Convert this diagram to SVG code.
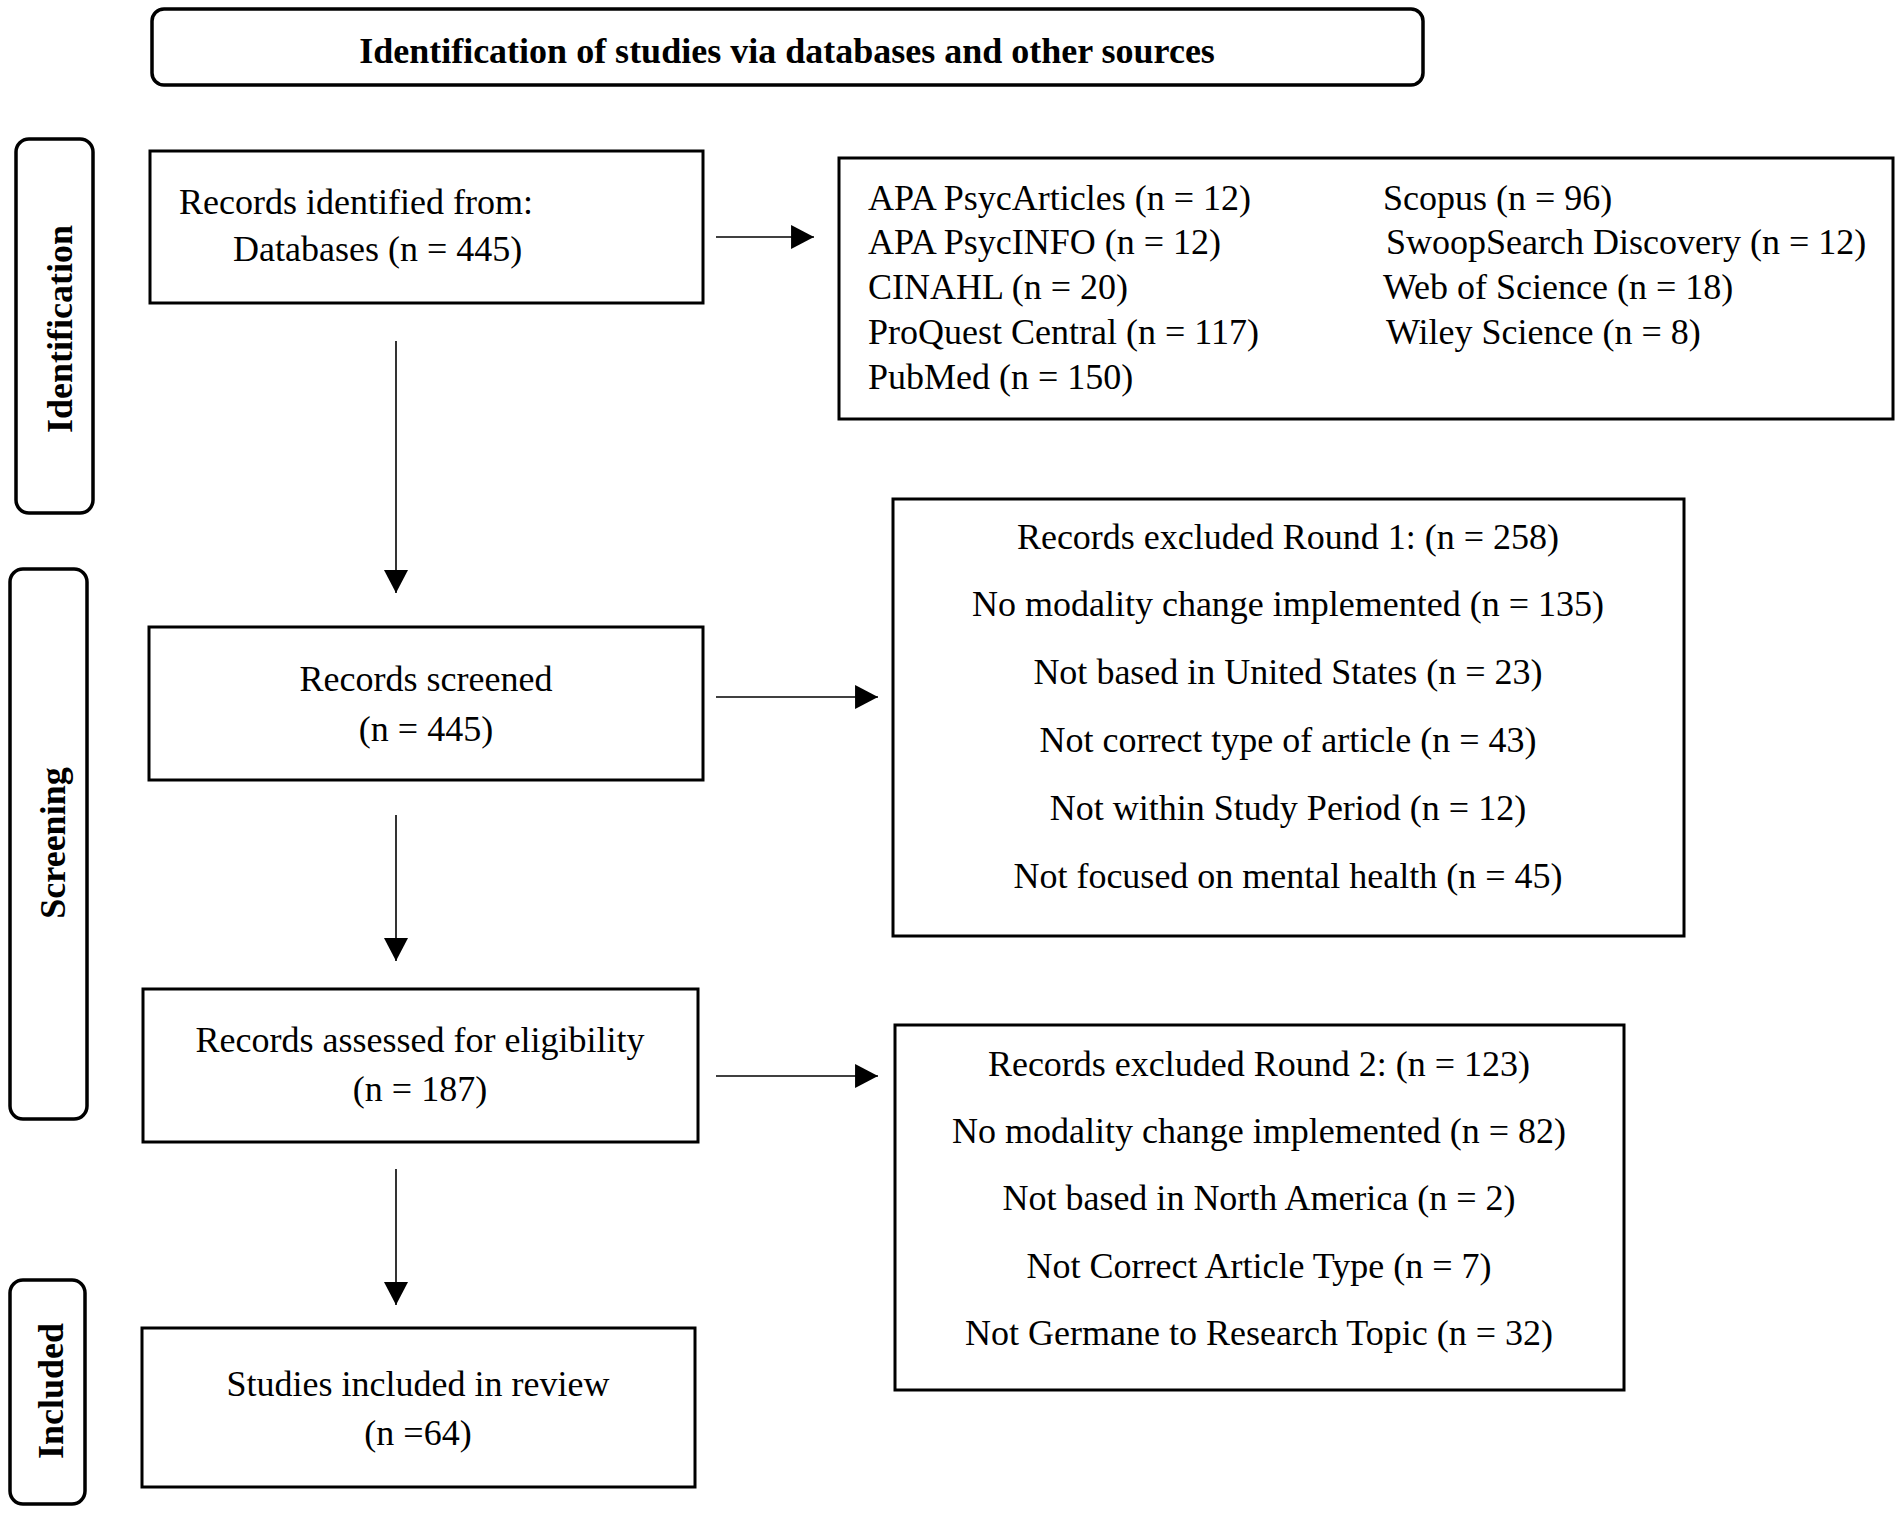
<svg xmlns="http://www.w3.org/2000/svg" width="1902" height="1513" viewBox="0 0 1902 1513">
<defs>
<style>
.box{fill:#fff;stroke:#000;stroke-width:3}
.side{fill:#fff;stroke:#000;stroke-width:3.5}
.t{font-family:"Liberation Serif","Times New Roman",serif;font-size:36px;fill:#000}
.c{text-anchor:middle}
.b{font-weight:bold}
.lab{font-family:"Liberation Serif","Times New Roman",serif;font-size:36px;font-weight:bold;fill:#000;text-anchor:middle}
.conn{stroke:#000;stroke-width:1.6;fill:none;marker-end:url(#ah)}
</style>
<marker id="ah" markerUnits="userSpaceOnUse" markerWidth="24" markerHeight="24" viewBox="0 0 22 22" refX="21" refY="11" orient="auto">
<path d="M0,0 L21,11 L0,22 Z" fill="#000"/>
</marker>
</defs>
<rect width="1902" height="1513" fill="#fff"/>

<g id="title">
<rect class="side" x="152" y="9" width="1271" height="76" rx="12"/>
<text class="t c b" x="787" y="63">Identification of studies via databases and other sources</text>
</g>

<g id="phase-identification">
<rect class="side" x="16" y="139" width="77" height="374" rx="13"/>
<text class="lab" transform="translate(72,329) rotate(-90)">Identification</text>
</g>
<g id="phase-screening">
<rect class="side" x="10" y="569" width="77" height="550" rx="13"/>
<text class="lab" transform="translate(65,843) rotate(-90)">Screening</text>
</g>
<g id="phase-included">
<rect class="side" x="10" y="1280" width="75" height="224" rx="13"/>
<text class="lab" transform="translate(63,1391) rotate(-90)">Included</text>
</g>

<g id="records-identified">
<rect class="box" x="150" y="151" width="553" height="152"/>
<text class="t" x="179" y="214">Records identified from:</text>
<text class="t" x="233" y="261">Databases (n = 445)</text>
</g>

<g id="databases">
<rect class="box" x="839" y="158" width="1054" height="261"/>
<text class="t" x="868" y="210">APA PsycArticles (n = 12)</text>
<text class="t" x="868" y="254">APA PsycINFO (n = 12)</text>
<text class="t" x="868" y="299">CINAHL (n = 20)</text>
<text class="t" x="868" y="344">ProQuest Central (n = 117)</text>
<text class="t" x="868" y="389">PubMed (n = 150)</text>
<text class="t" x="1383" y="210">Scopus (n = 96)</text>
<text class="t" x="1386" y="254">SwoopSearch Discovery (n = 12)</text>
<text class="t" x="1383" y="299">Web of Science (n = 18)</text>
<text class="t" x="1386" y="344">Wiley Science (n = 8)</text>
</g>

<g id="records-screened">
<rect class="box" x="149" y="627" width="554" height="153"/>
<text class="t c" x="426" y="691">Records screened</text>
<text class="t c" x="426" y="741">(n = 445)</text>
</g>

<g id="excluded-round1">
<rect class="box" x="893" y="499" width="791" height="437"/>
<text class="t c" x="1288" y="549">Records excluded Round 1: (n = 258)</text>
<text class="t c" x="1288" y="616">No modality change implemented (n = 135)</text>
<text class="t c" x="1288" y="684">Not based in United States (n = 23)</text>
<text class="t c" x="1288" y="752">Not correct type of article (n = 43)</text>
<text class="t c" x="1288" y="820">Not within Study Period (n = 12)</text>
<text class="t c" x="1288" y="888">Not focused on mental health (n = 45)</text>
</g>

<g id="records-assessed">
<rect class="box" x="143" y="989" width="555" height="153"/>
<text class="t c" x="420" y="1052">Records assessed for eligibility</text>
<text class="t c" x="420" y="1101">(n = 187)</text>
</g>

<g id="excluded-round2">
<rect class="box" x="895" y="1025" width="729" height="365"/>
<text class="t c" x="1259" y="1076">Records excluded Round 2: (n = 123)</text>
<text class="t c" x="1259" y="1143">No modality change implemented (n = 82)</text>
<text class="t c" x="1259" y="1210">Not based in North America (n = 2)</text>
<text class="t c" x="1259" y="1278">Not Correct Article Type (n = 7)</text>
<text class="t c" x="1259" y="1345">Not Germane to Research Topic (n = 32)</text>
</g>

<g id="studies-included">
<rect class="box" x="142" y="1328" width="553" height="159"/>
<text class="t c" x="418" y="1396">Studies included in review</text>
<text class="t c" x="418" y="1445">(n =64)</text>
</g>

<g id="connectors">
<line class="conn" x1="716" y1="237" x2="814" y2="237"/>
<line class="conn" x1="396" y1="341" x2="396" y2="593"/>
<line class="conn" x1="716" y1="697" x2="878" y2="697"/>
<line class="conn" x1="396" y1="815" x2="396" y2="961"/>
<line class="conn" x1="716" y1="1076" x2="878" y2="1076"/>
<line class="conn" x1="396" y1="1169" x2="396" y2="1305"/>
</g>
</svg>
